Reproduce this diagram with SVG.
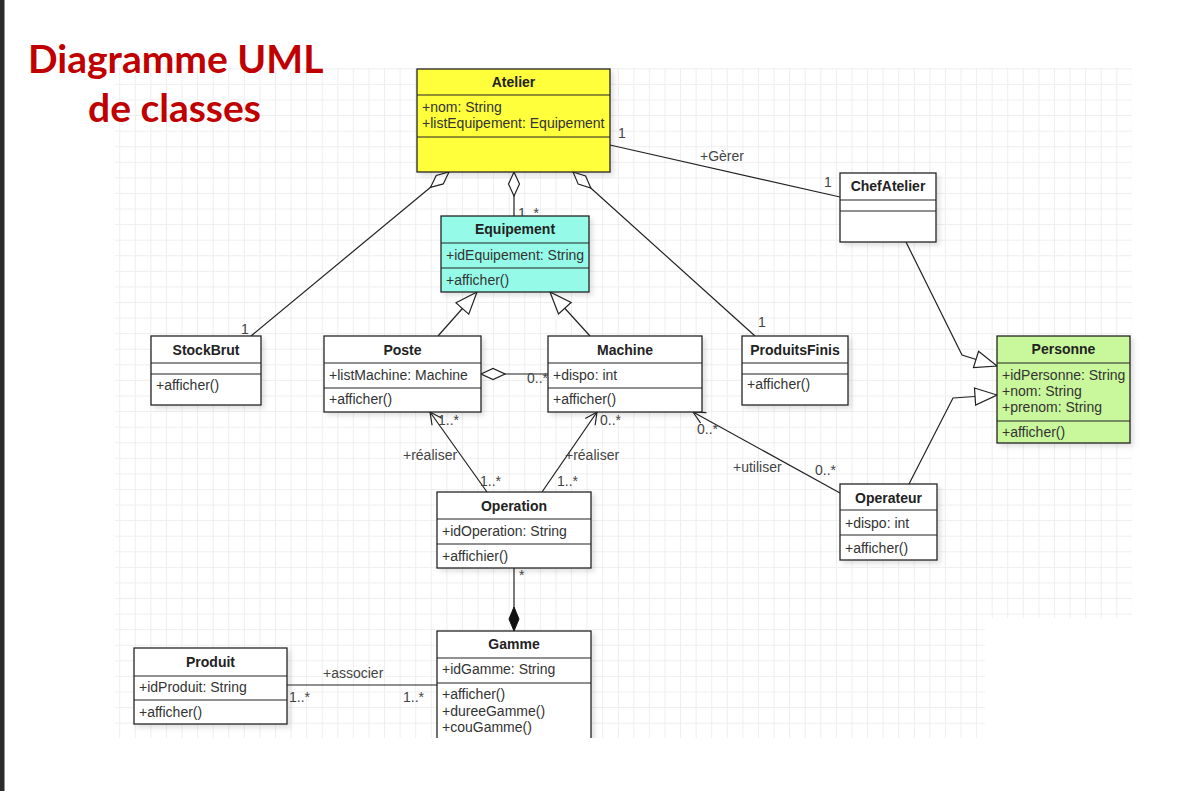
<svg xmlns="http://www.w3.org/2000/svg" width="1203" height="791" viewBox="0 0 1203 791">
<style>
.bx{stroke:#222;stroke-width:1.3}
.w{fill:#fff}
.dv{stroke:#222;stroke-width:1.2}
.t{font-family:"Liberation Sans",Arial,sans-serif;font-size:14px;fill:#333}
.h{font-family:"Liberation Sans",Arial,sans-serif;font-size:14px;font-weight:bold;fill:#222;text-anchor:middle}
.l{font-family:"Liberation Sans",Arial,sans-serif;font-size:14px;fill:#444}
.c{fill:none;stroke:#222;stroke-width:1.2}
.ttl{font-family:Lato,"Open Sans",sans-serif;font-weight:bold;font-size:39px;fill:#c00000}
</style>
<defs>
<pattern id="grid" patternUnits="userSpaceOnUse" x="119.2" y="68.3" width="15.58" height="15.58">
<path d="M0,0.5 H15.58 M0.5,0 V15.58" fill="none" stroke="#eeeeee" stroke-width="1"/>
</pattern>
<filter id="sh" x="-10%" y="-10%" width="130%" height="130%">
<feDropShadow dx="3" dy="3" stdDeviation="2.5" flood-color="#000" flood-opacity="0.12"/>
</filter>
<marker id="dia" viewBox="-1 -1 26 14" refX="0" refY="6" markerWidth="26" markerHeight="14" markerUnits="userSpaceOnUse" orient="auto">
<path d="M0,6 L12,0.5 L24,6 L12,11.5 Z" fill="#fff" stroke="#222" stroke-width="1.2"/>
</marker>
<marker id="fdia" viewBox="-1 -1 26 14" refX="24" refY="6" markerWidth="26" markerHeight="14" markerUnits="userSpaceOnUse" orient="auto">
<path d="M0,6 L12,1 L24,6 L12,11 Z" fill="#111" stroke="#111" stroke-width="1"/>
</marker>
<marker id="tri" viewBox="-1 -1 25 19" refX="22" refY="8.5" markerWidth="25" markerHeight="19" markerUnits="userSpaceOnUse" orient="auto">
<path d="M0,0 L22,8.5 L0,17 Z" fill="#fff" stroke="#222" stroke-width="1.2"/>
</marker>
<marker id="open" viewBox="-1 -1 14 14" refX="12" refY="6" markerWidth="14" markerHeight="14" markerUnits="userSpaceOnUse" orient="auto">
<path d="M0,0 L12,6 L0,12" fill="none" stroke="#222" stroke-width="1.2"/>
</marker>
<clipPath id="cut"><rect x="0" y="0" width="1203" height="738"/></clipPath>
</defs>

<rect x="0" y="0" width="1203" height="791" fill="#fff"/>
<rect x="0" y="0" width="4.5" height="791" fill="#2b2b2e"/>
<rect x="115" y="68" width="1017" height="550" fill="url(#grid)"/>
<rect x="115" y="618" width="870" height="120" fill="url(#grid)"/>

<g id="title">
<text class="ttl" x="28" y="73">Diagramme UML</text>
<text class="ttl" x="88" y="122">de classes</text>
</g>

<g id="connectors">
<path class="c" d="M449,172 L251,336" marker-start="url(#dia)"/>
<text class="l" x="241" y="334">1</text>
<path class="c" d="M514,172 L514,216" marker-start="url(#dia)"/>
<text class="l" x="518" y="218">1..*</text>
<path class="c" d="M573,172 L755,336" marker-start="url(#dia)"/>
<text class="l" x="758" y="327">1</text>
<path class="c" d="M610,145 L840,197"/>
<text class="l" x="618" y="138">1</text>
<text class="l" x="700" y="161">+Gèrer</text>
<text class="l" x="824" y="187">1</text>
<path class="c" d="M906,242 L962,355 L997,366" marker-end="url(#tri)"/>
<path class="c" d="M909,484 L953,398 L997,395" marker-end="url(#tri)"/>
<path class="c" d="M438,336 L477,292" marker-end="url(#tri)"/>
<path class="c" d="M590,336 L550,292" marker-end="url(#tri)"/>
<path class="c" d="M481,374 L548,374" marker-start="url(#dia)"/>
<text class="l" x="527" y="383">0..*</text>
<path class="c" d="M487,492 L430,412" marker-end="url(#open)"/>
<text class="l" x="438" y="425">1..*</text>
<text class="l" x="403" y="460">+réaliser</text>
<text class="l" x="480" y="486">1..*</text>
<path class="c" d="M542,492 L597,412" marker-end="url(#open)"/>
<text class="l" x="600" y="425">0..*</text>
<text class="l" x="565" y="460">+réaliser</text>
<text class="l" x="557" y="486">1..*</text>
<path class="c" d="M840,493 L693,412" marker-end="url(#open)"/>
<text class="l" x="697" y="434">0..*</text>
<text class="l" x="733" y="472">+utiliser</text>
<text class="l" x="815" y="475">0..*</text>
<path class="c" d="M514,568 L514,631" marker-end="url(#fdia)"/>
<text class="l" x="519" y="580">*</text>
<path class="c" d="M287,685 L437,685"/>
<text class="l" x="323" y="678">+associer</text>
<text class="l" x="289" y="702">1..*</text>
<text class="l" x="403" y="702">1..*</text>
</g>

<g id="Atelier">
<rect class="bx" x="417" y="69" width="193" height="103" fill="#ffff3b" filter="url(#sh)"/>
<line class="dv" x1="417" y1="95" x2="610" y2="95"/>
<line class="dv" x1="417" y1="137" x2="610" y2="137"/>
<text class="h" x="513.5" y="87">Atelier</text>
<text class="t" x="422" y="112">+nom: String</text>
<text class="t" x="422" y="128">+listEquipement: Equipement</text>
</g>

<g id="Equipement">
<rect class="bx" x="441" y="216" width="148" height="76" fill="#95fbe8" filter="url(#sh)"/>
<line class="dv" x1="441" y1="243" x2="589" y2="243"/>
<line class="dv" x1="441" y1="268" x2="589" y2="268"/>
<text class="h" x="515" y="234">Equipement</text>
<text class="t" x="446" y="260">+idEquipement: String</text>
<text class="t" x="446" y="285">+afficher()</text>
</g>

<g id="ChefAtelier">
<rect class="bx w" x="840" y="173" width="96" height="69" filter="url(#sh)"/>
<line class="dv" x1="840" y1="200" x2="936" y2="200"/>
<line class="dv" x1="840" y1="211" x2="936" y2="211"/>
<text class="h" x="888" y="191">ChefAtelier</text>
</g>

<g id="StockBrut">
<rect class="bx w" x="151" y="336" width="110" height="69" filter="url(#sh)"/>
<line class="dv" x1="151" y1="363" x2="261" y2="363"/>
<line class="dv" x1="151" y1="374" x2="261" y2="374"/>
<text class="h" x="206" y="355">StockBrut</text>
<text class="t" x="156" y="390">+afficher()</text>
</g>

<g id="Poste">
<rect class="bx w" x="324" y="336" width="157" height="76" filter="url(#sh)"/>
<line class="dv" x1="324" y1="363" x2="481" y2="363"/>
<line class="dv" x1="324" y1="388" x2="481" y2="388"/>
<text class="h" x="402.5" y="355">Poste</text>
<text class="t" x="329" y="380">+listMachine: Machine</text>
<text class="t" x="329" y="404">+afficher()</text>
</g>

<g id="Machine">
<rect class="bx w" x="548" y="336" width="154" height="76" filter="url(#sh)"/>
<line class="dv" x1="548" y1="363" x2="702" y2="363"/>
<line class="dv" x1="548" y1="388" x2="702" y2="388"/>
<text class="h" x="625" y="355">Machine</text>
<text class="t" x="553" y="380">+dispo: int</text>
<text class="t" x="553" y="404">+afficher()</text>
</g>

<g id="ProduitsFinis">
<rect class="bx w" x="742" y="336" width="106" height="69" filter="url(#sh)"/>
<line class="dv" x1="742" y1="363" x2="848" y2="363"/>
<line class="dv" x1="742" y1="374" x2="848" y2="374"/>
<text class="h" x="795" y="355">ProduitsFinis</text>
<text class="t" x="747" y="389">+afficher()</text>
</g>

<g id="Personne">
<rect class="bx" x="997" y="336" width="133" height="107" fill="#c9f79b" filter="url(#sh)"/>
<line class="dv" x1="997" y1="363" x2="1130" y2="363"/>
<line class="dv" x1="997" y1="421" x2="1130" y2="421"/>
<text class="h" x="1063.5" y="354">Personne</text>
<text class="t" x="1002" y="380">+idPersonne: String</text>
<text class="t" x="1002" y="396">+nom: String</text>
<text class="t" x="1002" y="412">+prenom: String</text>
<text class="t" x="1002" y="437">+afficher()</text>
</g>

<g id="Operation">
<rect class="bx w" x="437" y="492" width="154" height="76" filter="url(#sh)"/>
<line class="dv" x1="437" y1="519" x2="591" y2="519"/>
<line class="dv" x1="437" y1="544" x2="591" y2="544"/>
<text class="h" x="514" y="511">Operation</text>
<text class="t" x="442" y="536">+idOperation: String</text>
<text class="t" x="442" y="561">+affichier()</text>
</g>

<g id="Operateur">
<rect class="bx w" x="840" y="484" width="97" height="76" filter="url(#sh)"/>
<line class="dv" x1="840" y1="510" x2="937" y2="510"/>
<line class="dv" x1="840" y1="535" x2="937" y2="535"/>
<text class="h" x="888.5" y="503">Operateur</text>
<text class="t" x="845" y="528">+dispo: int</text>
<text class="t" x="845" y="553">+afficher()</text>
</g>

<g id="Gamme" clip-path="url(#cut)">
<rect class="bx w" x="437" y="631" width="154" height="130" filter="url(#sh)"/>
<line class="dv" x1="437" y1="658" x2="591" y2="658"/>
<line class="dv" x1="437" y1="683" x2="591" y2="683"/>
<text class="h" x="514" y="649">Gamme</text>
<text class="t" x="442" y="674">+idGamme: String</text>
<text class="t" x="442" y="699">+afficher()</text>
<text class="t" x="442" y="716">+dureeGamme()</text>
<text class="t" x="442" y="732">+couGamme()</text>
</g>

<g id="Produit">
<rect class="bx w" x="134" y="648" width="153" height="76" filter="url(#sh)"/>
<line class="dv" x1="134" y1="676" x2="287" y2="676"/>
<line class="dv" x1="134" y1="700" x2="287" y2="700"/>
<text class="h" x="210.5" y="667">Produit</text>
<text class="t" x="139" y="692">+idProduit: String</text>
<text class="t" x="139" y="717">+afficher()</text>
</g>
</svg>
